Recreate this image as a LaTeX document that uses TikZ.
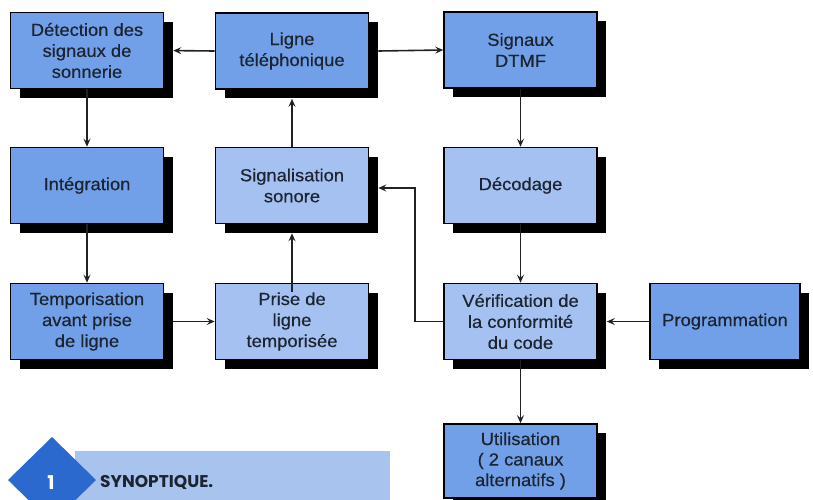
\documentclass[tikz,border=0pt]{standalone}
\usepackage{fontspec}
\setmainfont{Liberation Sans}[FakeStretch=1.05,FakeBold=0.4]
\newfontfamily\capfont{Poppins}
\usetikzlibrary{arrows.meta,shadows}
\definecolor{boxdark}{HTML}{719FE8}
\definecolor{boxlight}{HTML}{A4C1F1}
\definecolor{txtcol}{HTML}{1B2430}
\definecolor{linecol}{HTML}{222222}
\definecolor{bandcol}{HTML}{A9C3EF}
\definecolor{diamcol}{HTML}{2C69CF}
\begin{document}
\begin{tikzpicture}[x=1pt,y=-1pt,
  blk/.style={draw=black, line width=1.6pt, minimum width=153pt, minimum height=76pt,
    inner sep=0pt, align=center, text=txtcol, font=\fontsize{17.5}{21}\selectfont,
    drop shadow={shadow xshift=9pt, shadow yshift=-9pt, fill=black, opacity=1}},
  dk/.style={blk, fill=boxdark},
  lt/.style={blk, fill=boxlight},
  arr/.style={draw=linecol, line width=1.6pt, -{Stealth[length=8pt,width=7pt,inset=3pt]}},
  shadowend/.style={shorten >=9pt}]
\useasboundingbox (0,0) rectangle (813,499);
% row 1
\node[dk] (det) at (87,50.5) {Détection des\\signaux de\\sonnerie};
\node[dk] (ligne) at (292,51) {Ligne\\téléphonique};
\node[dk] (dtmf) at (520.5,50) {Signaux\\DTMF};
% row 2
\node[dk] (integ) at (87,185.5) {Intégration};
\node[lt] (signal) at (292,185.5) {Signalisation\\sonore};
\node[lt] (decod) at (520.5,185.5) {Décodage};
% row 3
\node[dk] (tempo) at (87,321.5) {Temporisation\\avant prise\\de ligne};
\node[lt] (prise) at (292,321.5) {Prise de\\ligne\\temporisée};
\node[lt] (verif) at (520.5,321.5) {Vérification de\\la conformité\\du code};
\node[dk, minimum width=150pt] (prog) at (725,321.5) {Programmation};
% row 4
\node[dk, minimum height=74pt, font=\fontsize{17.5}{20.5}\selectfont] (util) at (520.5,461) {Utilisation\\( 2 canaux\\alternatifs )};
% connectors
\draw[arr, shadowend] (ligne.west) -- (det.east);
\draw[arr] ([xshift=9pt]ligne.east) -- (dtmf.west);
\draw[arr] (det.south) -- (integ.north);
\draw[arr] (integ.south) -- (tempo.north);
\draw[arr] ([xshift=9pt]tempo.east) -- (prise.west);
\draw[arr] ([yshift=-9pt]prise.north) -- ([yshift=-9pt]signal.south);
\draw[arr] (signal.north) -- ([yshift=-9pt]ligne.south);
\draw[arr] (dtmf.south) -- (decod.north);
\draw[arr] (decod.south) -- (verif.north);
\draw[arr, shadowend] (prog.west) -- (verif.east);
\draw[arr] (verif.west) -- ++(-28,0) |- ([xshift=9pt,yshift=-2.5pt]signal.east);
\draw[arr] (verif.south) -- (util.north);
% caption
\fill[bandcol] (75,451) rectangle (390,510);
\fill[diamcol] (52,437) -- (96,480) -- (52,523) -- (8,480) -- cycle;
\node[text=white, font=\capfont\bfseries\fontsize{19}{19}\selectfont, inner sep=0pt] (one) at (51,483) {1};
\node[anchor=west, text=txtcol, font=\capfont\bfseries\fontsize{17}{17}\selectfont, inner sep=0pt] (cap) at (100,482) {SYNOPTIQUE.};
\end{tikzpicture}
\end{document}
